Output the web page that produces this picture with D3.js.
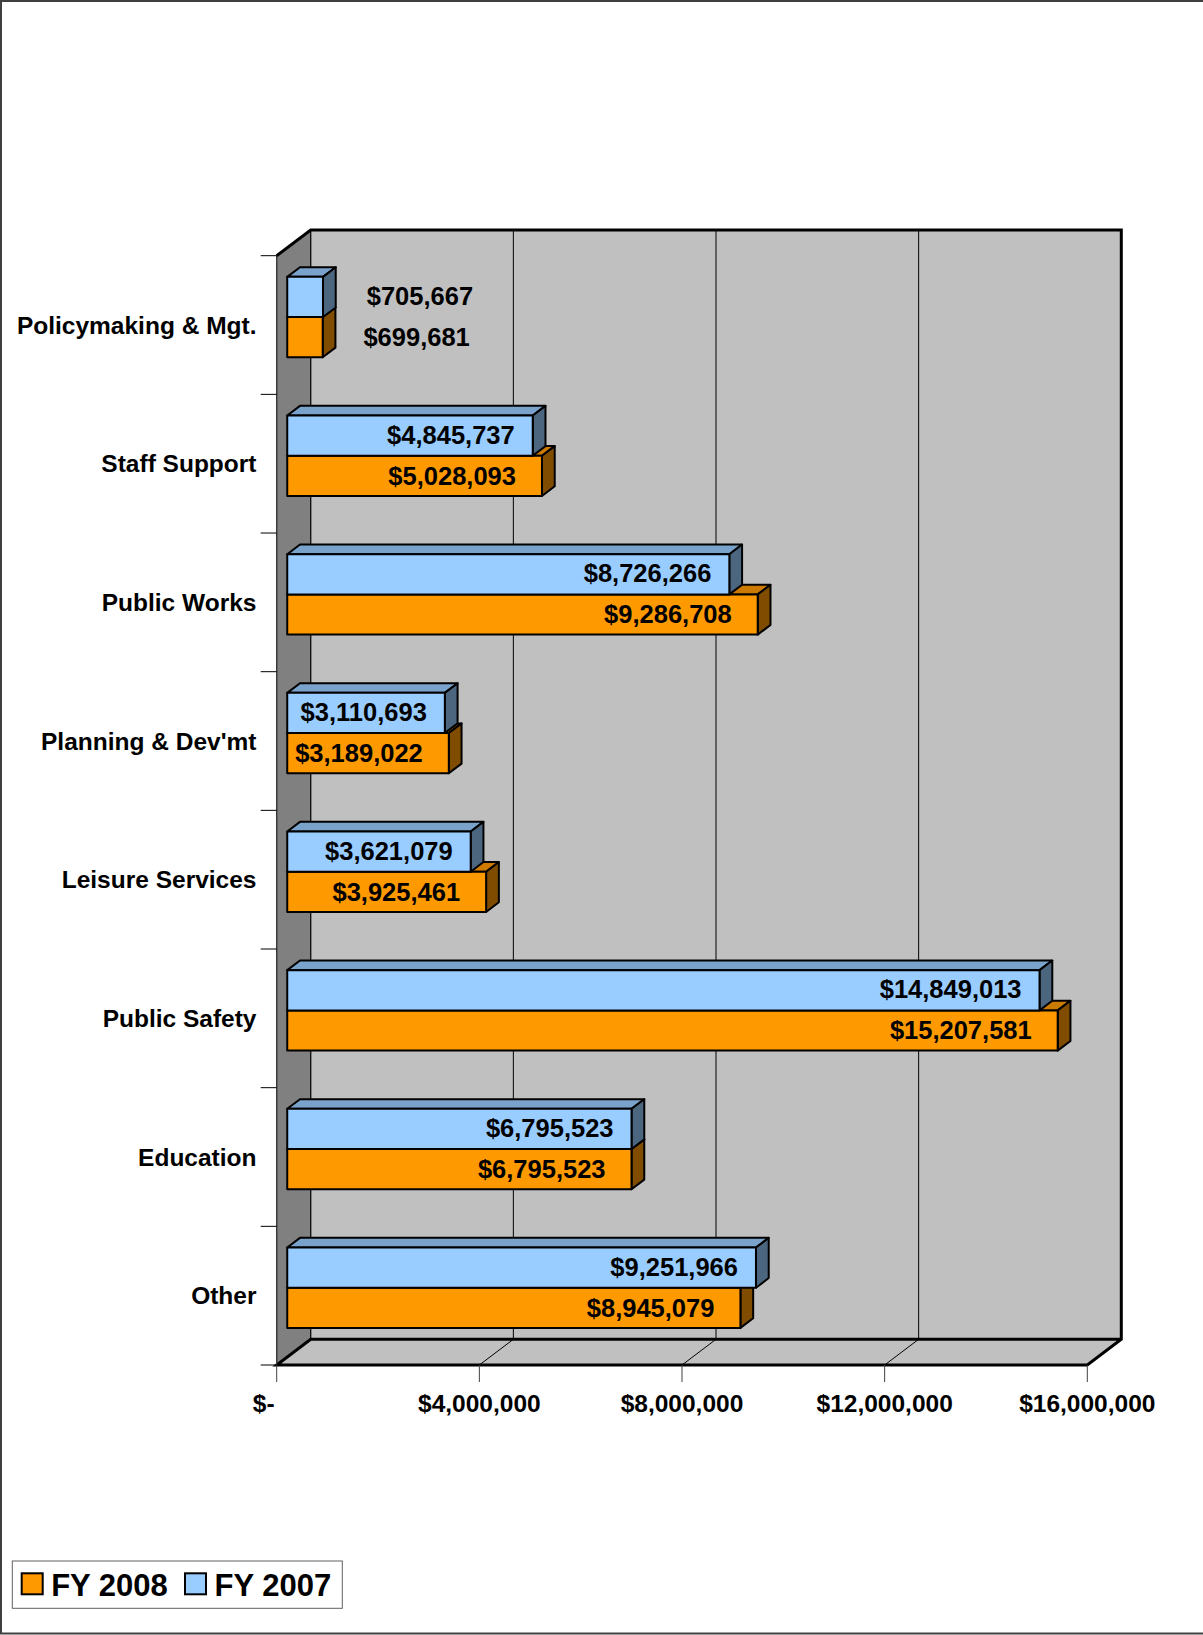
<!DOCTYPE html>
<html>
<head>
<meta charset="utf-8">
<script src="https://cdn.jsdelivr.net/npm/d3@7"></script>
<style>
  html, body { margin: 0; padding: 0; background: #fff; }
  svg { display: block; }
  text { font-family: "Liberation Sans", Arial, sans-serif; font-weight: bold; fill: #000; }
</style>
</head>
<body>
<svg id="chart" width="1203" height="1635"></svg>
<script>
// ---- data ----
const categories = ["Policymaking & Mgt.", "Staff Support", "Public Works", "Planning & Dev'mt",
                    "Leisure Services", "Public Safety", "Education", "Other"];
const seriesNames = ["FY 2007", "FY 2008"];
const fy2007 = [705667, 4845737, 8726266, 3110693, 3621079, 14849013, 6795523, 9251966];
const fy2008 = [699681, 5028093, 9286708, 3189022, 3925461, 15207581, 6795523, 8945079];
const tickValues = [0, 4000000, 8000000, 12000000, 16000000];
const tickLabels = ["$-", "$4,000,000", "$8,000,000", "$12,000,000", "$16,000,000"];
const legendOrder = ["FY 2008", "FY 2007"];

// ---- styles ----
const colors = {
  "FY 2007": { front: "#99CCFF", top: "#7AA3CC", side: "#4C6680" },
  "FY 2008": { front: "#FF9900", top: "#CC7A00", side: "#7F4C00" }
};

const svg = d3.select("#chart");
const W = 1203, H = 1635;

// page border
svg.append("rect").attr("x", 1).attr("y", 1).attr("width", W + 10).attr("height", H - 2.5)
  .attr("fill", "#fff").attr("stroke", "#404040").attr("stroke-width", 2);

// ---- geometry ----
const fx0 = 276.7, fx1 = 1087.3;       // front plane x extent
const fy0 = 255.7, fy1 = 1365;         // front plane y extent
const DX = 34, DY = -25.7;             // depth projection
const f0 = 0.31, f1 = 0.685;           // bar depth range

const x = d3.scaleLinear().domain([0, 16000000]).range([fx0, fx1]);
const y = d3.scaleBand().domain(categories).range([fy0, fy1]).padding(0);
const ys = d3.scaleBand().domain(seriesNames).range([0, y.bandwidth()]).paddingInner(0).paddingOuter(0.724);

const pt = (px, py) => px + "," + py;

// back wall
const bx0 = fx0 + DX, bx1 = fx1 + DX, by0 = fy0 + DY, by1 = fy1 + DY;
svg.append("rect").attr("x", bx0).attr("y", by0).attr("width", bx1 - bx0).attr("height", by1 - by0)
  .attr("fill", "#C0C0C0").attr("stroke", "#000").attr("stroke-width", 1);
// left wall
svg.append("polygon")
  .attr("points", [pt(fx0, fy0), pt(bx0, by0), pt(bx0, by1), pt(fx0, fy1)].join(" "))
  .attr("fill", "#808080").attr("stroke", "#000").attr("stroke-width", 1);
// floor
svg.append("polygon")
  .attr("points", [pt(fx0, fy1), pt(bx0, by1), pt(bx1, by1), pt(fx1, fy1)].join(" "))
  .attr("fill", "#C0C0C0").attr("stroke", "#000").attr("stroke-width", 1);

// gridlines on back wall and floor
const grid = svg.append("g");
tickValues.slice(1, -1).forEach(v => {
  grid.append("line").attr("x1", x(v) + DX).attr("x2", x(v) + DX).attr("y1", by0).attr("y2", by1)
    .attr("stroke", "#000").attr("stroke-width", 1);
  grid.append("line").attr("x1", x(v)).attr("x2", x(v) + DX).attr("y1", fy1).attr("y2", by1)
    .attr("stroke", "#000").attr("stroke-width", 1);
});

// thick outline edges
const thick = svg.append("g").attr("stroke", "#000").attr("stroke-width", 3).attr("fill", "none")
  .attr("stroke-linejoin", "miter");
thick.append("polyline").attr("points", [pt(fx0, fy0), pt(bx0, by0), pt(bx1, by0), pt(bx1, by1), pt(fx1, fy1), pt(fx0, fy1), pt(bx0, by1), pt(bx1, by1)].join(" "));

// axis ticks
const axisG = svg.append("g");
tickValues.forEach(v => {
  axisG.append("line").attr("x1", x(v)).attr("x2", x(v)).attr("y1", fy1).attr("y2", fy1 + 17)
    .attr("stroke", "#404040").attr("stroke-width", 1);
});
axisG.append("line").attr("x1", fx0).attr("x2", fx0).attr("y1", fy0).attr("y2", fy1)
  .attr("stroke", "#404040").attr("stroke-width", 1);
const bounds = categories.map(c => y(c)).concat([fy1]);
bounds.forEach(b => {
  axisG.append("line").attr("x1", fx0 - 16).attr("x2", fx0).attr("y1", b).attr("y2", b)
    .attr("stroke", "#000").attr("stroke-width", 1);
});

// tick labels
tickValues.forEach((v, i) => {
  axisG.append("text").attr("x", x(v) + (v === 0 ? -13 : 0)).attr("y", 1411.5)
    .attr("text-anchor", "middle").attr("font-size", "24.5px").text(tickLabels[i]);
});

// category labels
categories.forEach(c => {
  axisG.append("text").attr("x", 256.5).attr("y", y(c) + y.bandwidth() / 2)
    .attr("dy", "0.35em").attr("text-anchor", "end").attr("font-size", "24.5px").text(c);
});

// bars
const bars = svg.append("g");
const labels = svg.append("g");
const seriesData = { "FY 2007": fy2007, "FY 2008": fy2008 };
const drawOrder = ["FY 2008", "FY 2007"];
const d = f1 - f0;
categories.forEach((c, ci) => {
  drawOrder.forEach(s => {
    const v = seriesData[s][ci];
    const col = colors[s];
    const xa = x(0) + f0 * DX, xb = x(v) + f0 * DX;
    const ya = y(c) + ys(s) + f0 * DY, yb = ya + ys.bandwidth();
    const g = bars.append("g").attr("stroke", "#000").attr("stroke-width", 2).attr("stroke-linejoin", "round");
    g.append("polygon").attr("points", [pt(xa, ya), pt(xb, ya), pt(xb + d * DX, ya + d * DY), pt(xa + d * DX, ya + d * DY)].join(" "))
      .attr("fill", col.top);
    g.append("polygon").attr("points", [pt(xb, ya), pt(xb + d * DX, ya + d * DY), pt(xb + d * DX, yb + d * DY), pt(xb, yb)].join(" "))
      .attr("fill", col.side);
    g.append("rect").attr("x", xa).attr("y", ya).attr("width", xb - xa).attr("height", yb - ya)
      .attr("fill", col.front);
  });
});
// value labels
categories.forEach((c, ci) => {
  seriesNames.forEach(s => {
    const v = seriesData[s][ci];
    const xa = x(0) + f0 * DX, xb = x(v) + f0 * DX;
    const ya = y(c) + ys(s) + f0 * DY, yb = ya + ys.bandwidth();
    const t = labels.append("text").attr("font-size", "25.5px").attr("y", (ya + yb) / 2 - (s === "FY 2007" ? 1 : 0))
      .attr("dy", "0.35em").text(d3.format("$,")(v));
    const w = t.node().getComputedTextLength();
    if (w + 30 > xb - xa) {
      t.attr("x", xb + d * DX + 28 + (s === "FY 2007" ? 3 : 0)).attr("text-anchor", "start");
    } else {
      t.attr("x", xb - (s === "FY 2007" ? 18 : 26)).attr("text-anchor", "end");
    }
  });
});

// legend
const lg = svg.append("g");
lg.append("rect").attr("x", 12.3).attr("y", 1561).attr("width", 330).attr("height", 47.3)
  .attr("fill", "#fff").attr("stroke", "#606060").attr("stroke-width", 1);
const legendX = [21.7, 185];
legendOrder.forEach((s, i) => {
  lg.append("rect").attr("x", legendX[i]).attr("y", 1573.3).attr("width", 21).attr("height", 21)
    .attr("fill", colors[s].front).attr("stroke", "#000").attr("stroke-width", 2);
  lg.append("text").attr("x", legendX[i] + 29.5).attr("y", 1596).attr("font-size", "31px").text(s);
});
</script>
</body>
</html>
